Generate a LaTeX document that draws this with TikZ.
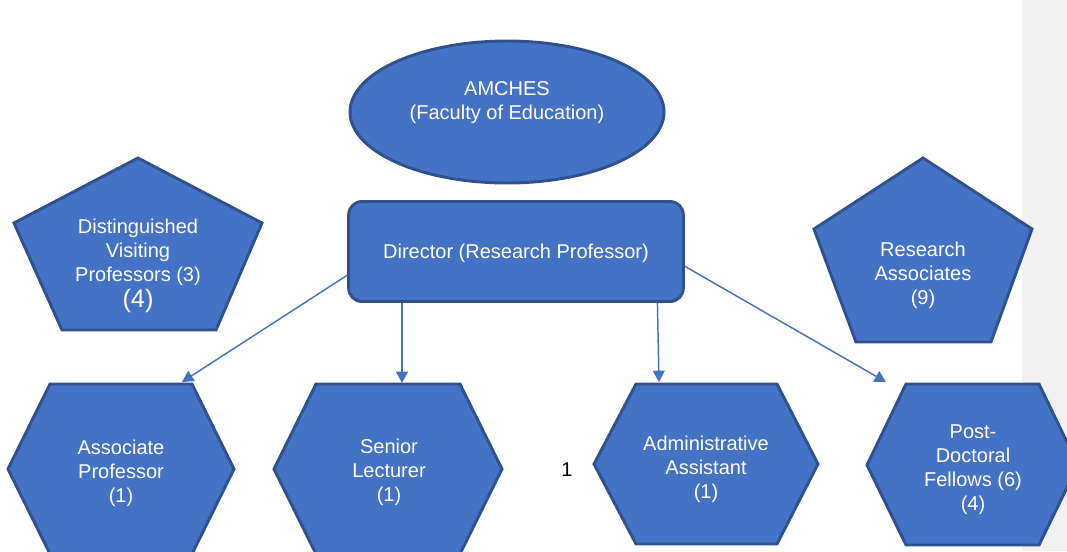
\documentclass[tikz,border=0pt]{standalone}
\usepackage{fontspec}
\setmainfont{Liberation Sans}
\usetikzlibrary{arrows.meta,shapes.geometric}

\definecolor{unitfill}{HTML}{4472C4}
\definecolor{unitline}{HTML}{2F528F}
\definecolor{pagemargin}{HTML}{F1F1F1}

\begin{document}
\begin{tikzpicture}[x=0.75pt,y=-0.75pt,
	unitshape/.style={fill=unitfill,draw=unitline,line width=2.2pt,line join=miter},
	unittext/.style={text=white,align=center,font=\fontsize{15}{18}\selectfont},
	link/.style={draw=unitfill,line width=1.1pt,-{Triangle[length=8.5pt,width=9pt]}}]
	\useasboundingbox (0,0) rectangle (1067,551);
	\clip (0,0) rectangle (1067,551);

	%page margin
	\fill[pagemargin] (1022,0) rectangle (1067,551);

	%top units
	\node[unitshape,ellipse,minimum width=235.5pt,minimum height=106.5pt] (amches) at (507,112) {};
	\node[unittext] (amchestext) at (507,103) {AMCHES\\(Faculty of Education)};
	\node[unitshape,unittext,text depth=0pt,rounded corners=10pt,minimum width=251pt,minimum height=75pt] (dir) at (516,251.5) {Director (Research Professor)};

	%pentagons
	\draw[unitshape] (138,158) -- (262,223) -- (216,330) -- (62,330) -- (14,223) -- cycle; %visiting professors
	\node[unittext] (dvp) at (138,266) {Distinguished\\Visiting\\Professors (3)\\[2pt]{\fontsize{19}{20}\selectfont(4)}};
	\draw[unitshape] (923,158) -- (1032,229) -- (991,342) -- (856,342) -- (814,229) -- cycle; %research associates
	\node[unittext] (ra) at (923,275.5) {Research\\Associates\\(9)};

	%hexagons
	\draw[unitshape] (50,384) -- (192,384) -- (234,469) -- (192,554) -- (50,554) -- (8,469) -- cycle; %associate professor
	\node[unittext] (assoc) at (121,473.5) {Associate\\Professor\\(1)};
	\draw[unitshape] (316,384) -- (460,384) -- (502,469) -- (460,554) -- (316,554) -- (274,469) -- cycle; %senior lecturer
	\node[unittext] (senior) at (389,472) {Senior\\Lecturer\\(1)};
	\draw[unitshape] (636,384) -- (777,384) -- (818,464) -- (777,544) -- (636,544) -- (594,464) -- cycle; %administrative assistant
	\node[unittext] (admin) at (706,469) {Administrative\\Assistant\\(1)};
	\draw[unitshape] (906,384) -- (1039,384) -- (1078,465) -- (1039,545) -- (906,545) -- (867,465) -- cycle; %post-doctoral fellows
	\node[unittext] (postdoc) at (973,470) {Post-\\Doctoral\\Fellows (6)\\(4)};

	%page number
	\node[font=\fontsize{15}{18}\selectfont] (pagenum) at (567,470) {1};

	%arrows
	\coordinate (assoc-in) at (182,382);
	\coordinate (senior-in) at (402,383);
	\coordinate (admin-in) at (659,382);
	\coordinate (postdoc-in) at (886,382);
	\draw[link] (dir.188) -- (assoc-in);
	\draw[link] (dir.south -| senior-in) -- (senior-in);
	\draw[link] (dir.340) -- (admin-in);
	\draw[link] (dir.355) -- (postdoc-in);
\end{tikzpicture}
\end{document}
